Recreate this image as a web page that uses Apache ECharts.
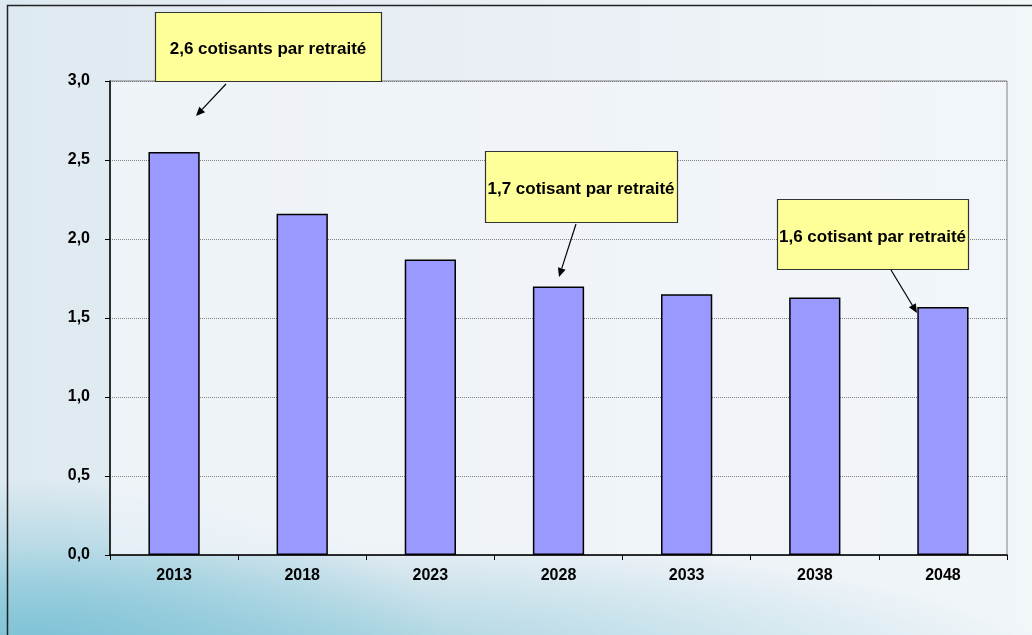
<!DOCTYPE html>
<html>
<head>
<meta charset="utf-8">
<title>Cotisants par retraité</title>
<script src="https://cdn.jsdelivr.net/npm/echarts@6/dist/echarts.min.js"></script>
<style>
  html, body { margin: 0; padding: 0; }
  body {
    width: 1032px; height: 635px; overflow: hidden;
    background:
      radial-gradient(ellipse 420px 170px at 30px 650px, rgba(120,192,212,0.95), rgba(120,192,212,0) 100%),
      radial-gradient(ellipse 750px 120px at 300px 660px, rgba(150,205,220,0.85), rgba(150,205,220,0) 100%),
      linear-gradient(to right, #dde9f0 0%, #e6ecf3 30%, #edf2f7 70%, #f1f6f9 100%);
  }
  #chart { width: 1032px; height: 635px; }
</style>
</head>
<body>
<div id="chart"></div>
<script>
// Données
const years = ['2013', '2018', '2023', '2028', '2033', '2038', '2048']
const ratio = [2.55, 2.16, 1.87, 1.70, 1.65, 1.63, 1.57]

// Bulles d'annotation
const notes = [
    { text: '2,6 cotisants par retraité', box: [155, 12, 226, 69], from: [226, 84], to: [196, 116] },
    { text: '1,7 cotisant par retraité', box: [485, 151, 192, 71], from: [576, 224], to: [559, 277] },
    { text: '1,6 cotisant par retraité', box: [777, 199, 191, 70], from: [891, 270], to: [917, 313] },
]

const FONT = "'Liberation Sans', Arial, sans-serif"
const fmt = v => v.toFixed(1).replace('.', ',')

function arrow(from, to) {
    const dx = to[0] - from[0], dy = to[1] - from[1]
    const len = Math.sqrt(dx * dx + dy * dy)
    const ux = dx / len, uy = dy / len
    const head = 9, half = 4
    const bx = to[0] - ux * head, by = to[1] - uy * head
    return [
        { type: 'line', shape: { x1: from[0], y1: from[1], x2: bx, y2: by }, style: { stroke: '#000', lineWidth: 1.2 } },
        {
            type: 'polygon',
            shape: { points: [to, [bx - uy * half, by + ux * half], [bx + uy * half, by - ux * half]] },
            style: { fill: '#000' }
        }
    ]
}

const graphics = [
    { type: 'rect', z: -10, shape: { x: 7.5, y: 5.5, width: 1100, height: 700 }, style: { fill: 'none', stroke: '#222', lineWidth: 1.5 } }
]
for (const n of notes) {
    const [x, y, w, h] = n.box
    graphics.push({
        type: 'rect', z: 10,
        shape: { x: x + 0.5, y: y + 0.5, width: w, height: h },
        style: { fill: '#ffff99', stroke: '#333', lineWidth: 1.2 }
    })
    graphics.push({
        type: 'text', z: 11, x: x + w / 2, y: y + h / 2 + 3,
        style: { text: n.text, font: `bold 17px ${FONT}`, fill: '#000', align: 'center', verticalAlign: 'middle' }
    })
    graphics.push(...arrow(n.from, n.to).map(g => ({ ...g, z: 11 })))
}

const chart = echarts.init(document.getElementById('chart'))
chart.setOption({
    animation: false,
    textStyle: { fontFamily: FONT },
    grid: {
        left: 110, right: 25, top: 81, bottom: 80,
        containLabel: false, outerBoundsMode: 'none',
        show: true, backgroundColor: 'rgba(242,246,250,0.75)', borderColor: '#808080', borderWidth: 1
    },
    xAxis: {
        type: 'category',
        data: years,
        axisLine: { lineStyle: { color: '#000', width: 1.5 } },
        axisTick: { show: true, length: 5, lineStyle: { color: '#000' } },
        axisLabel: { color: '#000', fontWeight: 'bold', fontSize: 16, margin: 13, fontFamily: FONT }
    },
    yAxis: {
        type: 'value',
        min: 0, max: 3, interval: 0.5,
        axisLine: { show: true, lineStyle: { color: '#000', width: 1.5 } },
        axisTick: { show: true, length: 5, lineStyle: { color: '#000' } },
        axisLabel: { color: '#000', fontWeight: 'bold', fontSize: 16, margin: 20, formatter: fmt, fontFamily: FONT },
        splitLine: { show: true, lineStyle: { color: '#808080', type: 'dotted', width: 1 } }
    },
    series: [{
        type: 'bar',
        data: ratio,
        barWidth: '40%',
        itemStyle: { color: '#9999ff', borderColor: '#000', borderWidth: 1.5 }
    }],
    graphic: graphics
})
</script>
</body>
</html>
